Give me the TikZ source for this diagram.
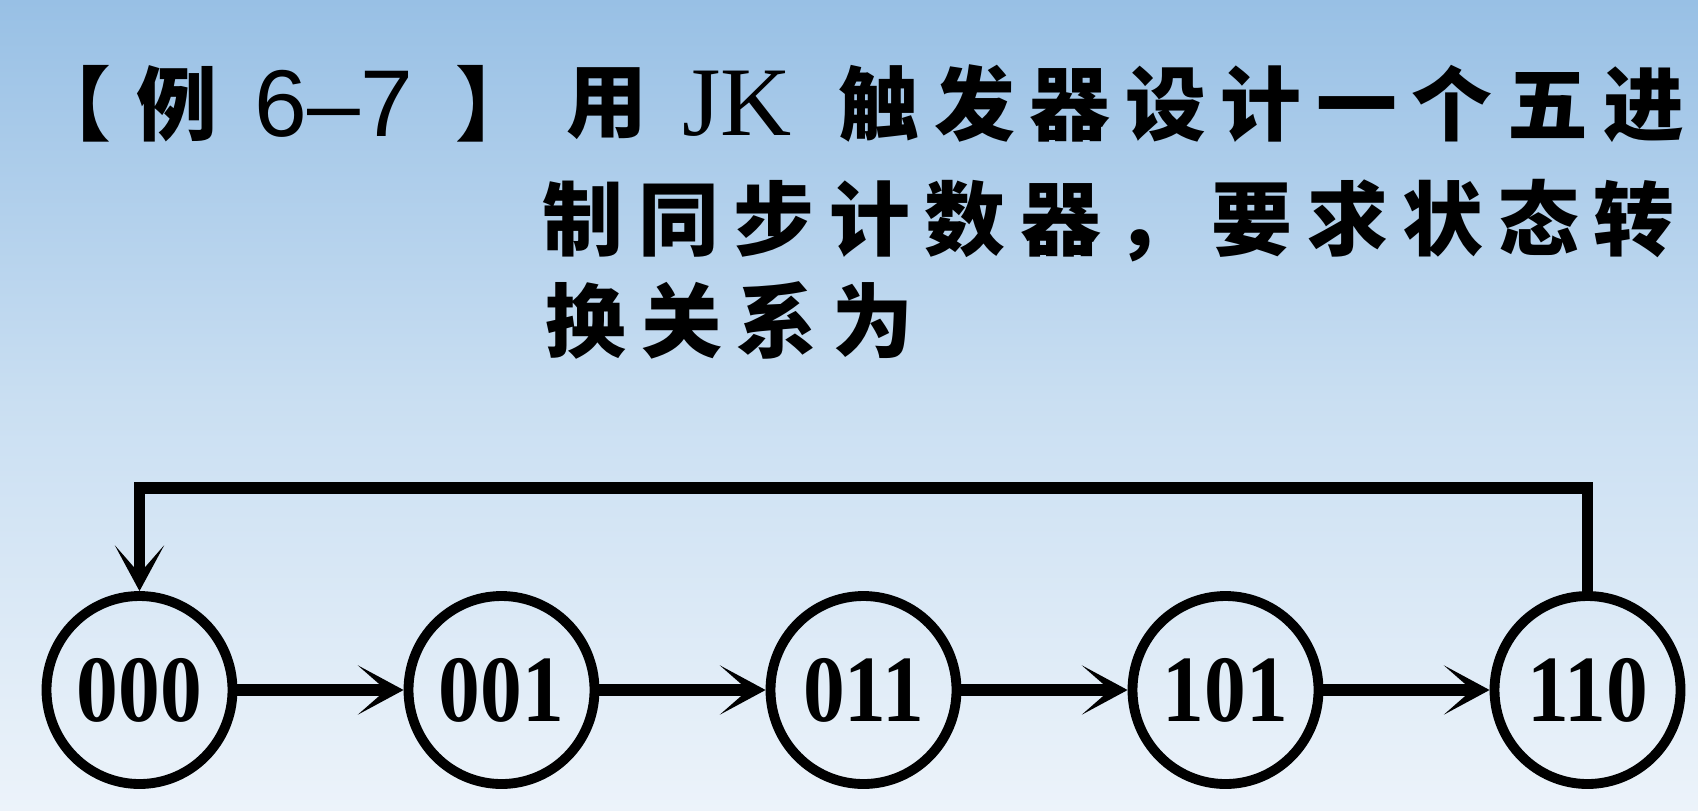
\documentclass[tikz,border=0pt]{standalone}
\usepackage{fontspec}
\setmainfont{Liberation Serif}
\newfontfamily\cjk{Noto Sans CJK SC}[LetterSpace=18.2]
\newfontfamily\digits{Liberation Sans}
\newfontfamily\statefont{Liberation Serif}[FakeStretch=0.88]
\usetikzlibrary{arrows.meta}
\usetikzlibrary{shapes.geometric}
\definecolor{skytop}{RGB}{152,192,229}
\definecolor{skymid}{RGB}{202,223,242}
\definecolor{skybot}{RGB}{236,243,250}
\tikzset{
  state/.style={ellipse, draw, line width=2.8pt, minimum width=1.86cm, minimum height=1.88cm,
    inner sep=0pt, font=\statefont\bfseries\fontsize{27}{27}\selectfont},
  arr/.style={line width=3.2pt, -{Stealth[length=13pt, width=14pt, inset=8pt]}},
  title/.style={anchor=west, inner sep=0pt, font=\cjk\bfseries\fontsize{23}{23}\selectfont},
  latin/.style={anchor=west, inner sep=0pt}
}
\begin{document}
\begin{tikzpicture}
% background
\shade[top color=skytop, bottom color=skybot, middle color=skymid] (0,0) rectangle (16.98,8.10);
\useasboundingbox (0,0) rectangle (16.98,8.10);

% title
\node[title] (lbrk) at (0.30,7.06) {【};
\node[title] (li) at (1.36,7.06) {例};
\node[latin, font=\digits\fontsize{27}{27}\selectfont] (num) at (2.54,7.06) {6–7};
\node[title] (rbrk) at (4.55,7.06) {】};
\node[title] (yong) at (5.66,7.06) {用};
\node[latin, font=\fontsize{28}{28}\selectfont] (jk) at (6.82,7.06) {JK};
\node[title] (l1) at (8.38,7.06) {触发器设计一个五进};
\node[title] (l2) at (5.42,5.89) {制同步计数器，要求状态转};
\node[title] (l3) at (5.45,4.90) {换关系为};

% states
\foreach \s [count=\i from 0] in {000,001,011,101,110}
  \node[state] (s\s) at ({1.395+3.62*\i},1.2) {\s};

% transitions
\foreach \a/\b in {000/001,001/011,011/101,101/110}
  \draw[arr] (s\a) -- (s\b);
\draw[arr] (s110.north) -- ++(0,1.03) -| (s000.north);
\end{tikzpicture}
\end{document}
